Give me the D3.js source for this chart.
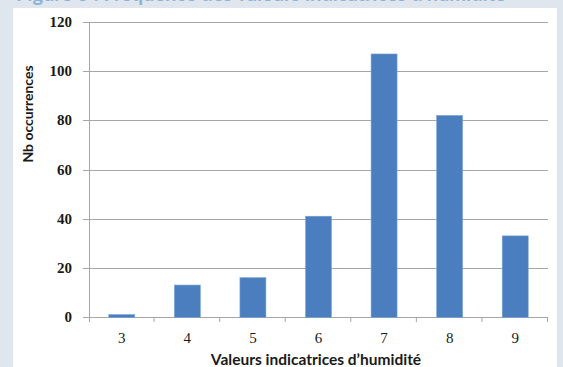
<!DOCTYPE html>
<html>
<head>
<meta charset="utf-8">
<script src="https://cdn.jsdelivr.net/npm/d3@7"></script>
<style>
  html, body { margin: 0; padding: 0; background: #dfe6ee; }
  svg { display: block; }
</style>
</head>
<body>
<svg id="chart" width="563" height="367"></svg>
<script>
// Occurrences of each humidity indicator value
const categories = ["3", "4", "5", "6", "7", "8", "9"];
const occurrences = [1, 13, 16, 41, 107, 82, 33];
const yTicks = [0, 20, 40, 60, 80, 100, 120];

const svg = d3.select("#chart");
const W = 563, H = 367;
const plot = { left: 89, right: 548, top: 22, bottom: 317 };

// page background, caption running above the panel, and white chart panel
svg.append("rect").attr("width", W).attr("height", H).attr("fill", "#dfe6ee");
svg.append("text")
  .attr("x", 16).attr("y", 1)
  .attr("font-family", "Lato, 'Open Sans', sans-serif")
  .attr("font-weight", "bold")
  .attr("font-size", 20)
  .attr("fill", "#8db3d9")
  .text("Figure 3 : Fréquence des valeurs indicatrices d'humidité");
svg.append("rect").attr("x", 13).attr("y", 8).attr("width", 544).attr("height", H - 8).attr("fill", "#ffffff");

const xb = d3.scaleBand().domain(categories).range([plot.left, plot.right]);
const y = d3.scaleLinear().domain([0, 120]).range([plot.bottom, plot.top]);

// horizontal gridlines
svg.append("g").selectAll("line").data(yTicks).join("line")
  .attr("x1", plot.left - 6).attr("x2", plot.right)
  .attr("y1", d => Math.round(y(d)) + 0.5).attr("y2", d => Math.round(y(d)) + 0.5)
  .attr("stroke", "#a6a6a6").attr("stroke-width", 1);

// y axis line
svg.append("line")
  .attr("x1", plot.left + 0.5).attr("x2", plot.left + 0.5)
  .attr("y1", plot.top).attr("y2", plot.bottom + 5)
  .attr("stroke", "#a6a6a6");

// category tick marks on the baseline
svg.append("g").selectAll("line").data(categories.slice(1).concat(["end"])).join("line")
  .attr("x1", d => (d === "end" ? plot.right : xb(d)) - 0.5)
  .attr("x2", d => (d === "end" ? plot.right : xb(d)) - 0.5)
  .attr("y1", plot.bottom).attr("y2", plot.bottom + 5)
  .attr("stroke", "#a6a6a6");

// bars
svg.append("g").selectAll("rect").data(categories).join("rect")
  .attr("x", d => xb(d) + xb.bandwidth() / 2 - 13)
  .attr("width", 26)
  .attr("y", (d, i) => y(occurrences[i]))
  .attr("height", (d, i) => plot.bottom + 0.5 - y(occurrences[i]))
  .attr("fill", "#4a7ebf")
  .attr("stroke", "#7fa6d6").attr("stroke-width", 0.6);

// y tick labels
svg.append("g").selectAll("text").data(yTicks).join("text")
  .attr("x", 72).attr("y", d => y(d) + 5)
  .attr("text-anchor", "end")
  .attr("font-family", "'Liberation Serif', serif")
  .attr("font-weight", "bold")
  .attr("font-size", 15)
  .attr("fill", "#1a1a1a")
  .text(d => d);

// x tick labels
svg.append("g").selectAll("text").data(categories).join("text")
  .attr("x", d => xb(d) + xb.bandwidth() / 2).attr("y", 343)
  .attr("text-anchor", "middle")
  .attr("font-family", "'Liberation Serif', serif")
  .attr("font-size", 15)
  .attr("fill", "#1a1a1a")
  .text(d => d);

// axis titles
svg.append("text")
  .attr("transform", "translate(33,114) rotate(-90)")
  .attr("text-anchor", "middle")
  .attr("font-family", "Lato, sans-serif")
  .attr("font-weight", "bold")
  .attr("font-size", 14)
  .attr("fill", "#1a1a1a")
  .text("Nb occurrences");

svg.append("text")
  .attr("x", 316).attr("y", 365)
  .attr("text-anchor", "middle")
  .attr("font-family", "Lato, sans-serif")
  .attr("font-weight", "bold")
  .attr("font-size", 15.5)
  .attr("fill", "#1a1a1a")
  .text("Valeurs indicatrices d’humidité");
</script>
</body>
</html>
